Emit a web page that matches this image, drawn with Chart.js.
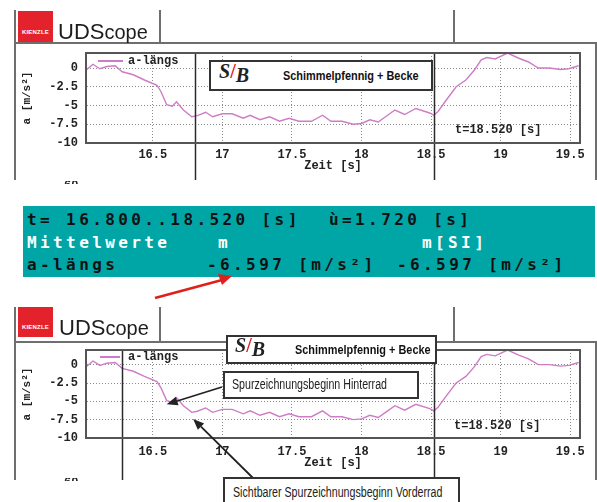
<!DOCTYPE html>
<html>
<head>
<meta charset="utf-8">
<script src="https://cdn.jsdelivr.net/npm/chart.js@4.4.1/dist/chart.umd.min.js"></script>
<style>
body { margin: 0; background: #fff; }
#page { position: relative; width: 597px; height: 502px; overflow: hidden; font-family: "Liberation Mono", "DejaVu Sans Mono", monospace; }
canvas { position: absolute; left: 0; }
.ln { position: absolute; background: #6e6e6e; }
.kz { position: absolute; width: 35px; height: 31px; background: #e4222b; color: #fff; font: bold 6px "Liberation Sans", sans-serif; text-align: center; box-sizing: border-box; padding-top: 18px; letter-spacing: 0.2px; }
.uds { position: absolute; font: 22px "Liberation Sans", sans-serif; color: #1e1e1e; line-height: 22px; white-space: pre; }
.uds small { font-size: 20px; }
.box { position: absolute; background: #fff; border: 2px solid #333; box-sizing: border-box; }
.sb { position: absolute; font: italic bold 20px "Liberation Serif", serif; color: #222; }
.sb i { color: #e02020; font-style: normal; }
.firm { position: absolute; font: bold 13px "Liberation Sans", sans-serif; color: #111; white-space: pre; transform: scaleX(0.84); transform-origin: 0 0; }
.note { position: absolute; font: 14px "Liberation Sans", sans-serif; color: #222; white-space: pre; transform: scaleX(0.76); transform-origin: 0 0; }
.mono { position: absolute; font: bold 12px "Liberation Mono", monospace; color: #222; white-space: pre; line-height: 14px; }
.leg { position: absolute; height: 1.5px; background: #cf7cc6; }
#panel { position: absolute; left: 23px; top: 206px; width: 572px; height: 71px; background: #00a6a6; }
.pt { position: absolute; font: bold 16px "DejaVu Sans Mono", monospace; letter-spacing: 3.4px; line-height: 16px; white-space: pre; color: #111; }
.pt.w { color: #fff; }
</style>
</head>
<body>
<div id="page">
  <canvas id="scopeTop" width="597" height="185" style="top:0"></canvas>
  <canvas id="scopeBottom" width="597" height="202" style="top:300px"></canvas>

  <!-- top window frame -->
  <div class="ln" style="left:14px;top:10px;width:2px;height:170px"></div>
  <div class="ln" style="left:159px;top:10px;width:2px;height:33px"></div>
  <div class="ln" style="left:453px;top:10px;width:2px;height:33px"></div>
  <div class="ln" style="left:15px;top:42px;width:582px;height:2px"></div>
  <div class="ln" style="left:595px;top:43px;width:2px;height:137px"></div>
  <div class="kz" style="left:18px;top:11px">KIENZLE</div>
  <div class="uds" style="left:58px;top:21px">UDS<small>cope</small></div>

  <!-- bottom window frame -->
  <div class="ln" style="left:14px;top:307px;width:2px;height:173px"></div>
  <div class="ln" style="left:159px;top:307px;width:2px;height:35px"></div>
  <div class="ln" style="left:453px;top:307px;width:2px;height:35px"></div>
  <div class="ln" style="left:15px;top:341px;width:582px;height:2px"></div>
  <div class="ln" style="left:595px;top:342px;width:2px;height:138px"></div>
  <div class="kz" style="left:18px;top:307px;height:30px;padding-top:17px">KIENZLE</div>
  <div class="uds" style="left:59px;top:317px">UDS<small>cope</small></div>

  <div style="position:absolute;left:64px;top:181px;height:3px;overflow:hidden"><div class="mono" style="position:static;margin-top:-2px">60</div></div>
  <div style="position:absolute;left:64px;top:478px;height:3px;overflow:hidden"><div class="mono" style="position:static;margin-top:-2px">60</div></div>

  <!-- legends and cursor readouts -->
  <div class="leg" style="left:98px;top:60px;width:25px"></div>
  <div class="mono" style="left:128px;top:54px">a-längs</div>
  <div class="mono" style="left:455px;top:123px">t=18.520 [s]</div>
  <div class="leg" style="left:100px;top:356px;width:20px"></div>
  <div class="mono" style="left:128px;top:350px">a-längs</div>
  <div class="mono" style="left:454px;top:419px">t=18.520 [s]</div>

  <!-- S/B boxes -->
  <div class="box" style="left:209px;top:60px;width:224px;height:31px"></div>
  <div class="sb" style="left:219px;top:60px">S<i>/</i><span style="position:relative;top:4px">B</span></div>
  <div class="firm" style="left:283px;top:68px">Schimmelpfennig + Becke</div>
  <div class="box" style="left:226px;top:335px;width:211px;height:29px"></div>
  <div class="sb" style="left:235px;top:334px">S<i>/</i><span style="position:relative;top:4px">B</span></div>
  <div class="firm" style="left:295px;top:342px">Schimmelpfennig + Becke</div>

  <!-- annotations -->
  <div class="box" style="left:223px;top:371px;width:196px;height:28px"></div>
  <div class="note" style="left:232px;top:376px">Spurzeichnungsbeginn Hinterrad</div>
  <div class="box" style="left:223px;top:477px;width:237px;height:40px"></div>
  <div class="note" style="left:233px;top:484px">Sichtbarer Spurzeichnungsbeginn Vorderrad</div>

  <!-- measurement panel -->
  <div id="panel"></div>
  <div class="pt" style="left:27px;top:212px">t= 16.800..18.520 [s]</div>
  <div class="pt" style="left:329px;top:212px">ù=1.720 [s]</div>
  <div class="pt w" style="left:27px;top:235px">Mittelwerte</div>
  <div class="pt w" style="left:218px;top:235px">m</div>
  <div class="pt w" style="left:422px;top:235px">m[SI]</div>
  <div class="pt" style="left:27px;top:257px">a-längs</div>
  <div class="pt" style="left:207px;top:257px">-6.597 [m/s²]</div>
  <div class="pt" style="left:397px;top:257px">-6.597 [m/s²]</div>

  <svg width="597" height="502" style="position:absolute;left:0;top:0;pointer-events:none">
    <line x1="155" y1="298" x2="222" y2="280" stroke="#e0201c" stroke-width="2.5"/>
    <polygon points="232,276 218,274 222,285" fill="#e0201c"/>
  </svg>
</div>

<script>
// a-längs trace
const timeS = [16.02, 16.07, 16.12, 16.17, 16.23, 16.28, 16.36, 16.44, 16.53, 16.56,
  16.60, 16.64, 16.67, 16.72, 16.78, 16.82, 16.88, 16.93, 17.00, 17.07,
  17.15, 17.20, 17.27, 17.34, 17.41, 17.48, 17.55, 17.64, 17.72, 17.78,
  17.86, 17.94, 18.00, 18.06, 18.12, 18.18, 18.24, 18.31, 18.39, 18.49,
  18.52, 18.55, 18.60, 18.68, 18.75, 18.81, 18.86, 18.90, 18.96, 19.05,
  19.13, 19.20, 19.27, 19.35, 19.43, 19.49, 19.56];
const accel = [-0.3, 0.5, -0.1, 0.2, 0.3, -0.5, -0.9, -1.6, -2.3, -3.2,
  -4.9, -5.1, -4.5, -5.6, -6.5, -6.35, -5.9, -6.5, -6.1, -6.1,
  -6.7, -6.3, -6.9, -6.5, -7.1, -6.7, -7.1, -7.1, -6.3, -7.1,
  -7.1, -7.5, -7.4, -6.9, -7.2, -6.4, -5.6, -6.2, -5.4, -6.0,
  -6.3, -5.8, -4.5, -2.5, -1.6, -0.3, 1.1, 1.4, 1.2, 2.0,
  1.3, 0.8, 0.0, 0.0, -0.2, -0.1, 0.3];
const xTicks = [16.5, 17, 17.5, 18, 18.5, 19, 19.5];
const yTicks = [0, -2.5, -5, -7.5, -10];
const cursorsTop = [16.8, 18.52];
const cursorsBottom = [16.28, 18.52];
// arrow targets on the trace (t, a)
const markHinterrad = {t: 16.6, v: -5.4};
const markVorderrad = {t: 16.79, v: -7.4};

function drawArrow(ctx, x0, y0, x1, y1) {
    let ang = Math.atan2(y1 - y0, x1 - x0)
    let hl = 11, hw = 4.5
    let bx = x1 - hl * Math.cos(ang), by = y1 - hl * Math.sin(ang)
    ctx.beginPath()
    ctx.moveTo(x0, y0)
    ctx.lineTo(bx, by)
    ctx.stroke()
    ctx.beginPath()
    ctx.moveTo(x1, y1)
    ctx.lineTo(bx + hw * Math.sin(ang), by - hw * Math.cos(ang))
    ctx.lineTo(bx - hw * Math.sin(ang), by + hw * Math.cos(ang))
    ctx.closePath()
    ctx.fill()
}

const scopeDeco = {
    id: 'scopeDeco',
    afterDatasetsDraw(chart, args, opts) {
        const {ctx, chartArea: a, scales: {x, y}} = chart
        ctx.save()
        ctx.strokeStyle = '#2a2a2a'
        ctx.lineWidth = 1.5
        opts.cursors.forEach(t => {
            let px = Math.round(x.getPixelForValue(t)) + 0.5
            ctx.beginPath()
            ctx.moveTo(px, a.top)
            ctx.lineTo(px, opts.cursorEnd)
            ctx.stroke()
        })
        ctx.strokeStyle = '#555'
        ctx.lineWidth = 2
        ctx.strokeRect(a.left, a.top, a.width, a.height)
        ctx.strokeStyle = '#222'
        ctx.fillStyle = '#222'
        ctx.lineWidth = 1.8
        ;(opts.arrows || []).forEach(ar => {
            drawArrow(ctx, ar.fromX, ar.fromY, x.getPixelForValue(ar.t), y.getPixelForValue(ar.v))
        })
        ctx.restore()
    }
}

Chart.defaults.font.family = '"Liberation Mono", "DejaVu Sans Mono", monospace'
Chart.defaults.color = '#222'

function scopeChart(id, cursors, arrows, pad) {
    const data = {
        datasets: [{
            label: 'a-längs',
            data: timeS.map((t, i) => ({x: t, y: accel[i]})),
            borderColor: '#cf7cc6',
            borderWidth: 1.4,
            pointRadius: 0,
            tension: 0
        }]
    }
    const config = {
        type: 'line',
        data: data,
        options: {
            responsive: false,
            animation: false,
            devicePixelRatio: 1,
            layout: {padding: {left: 0, top: pad.top, right: 17, bottom: pad.bottom}},
            plugins: {
                legend: {display: false},
                tooltip: {enabled: false},
                scopeDeco: {cursors: cursors, cursorEnd: 180, arrows: arrows}
            },
            scales: {
                x: {
                    type: 'linear', min: 16.02, max: 19.57,
                    afterFit: s => { s.height = 42 },
                    afterBuildTicks: s => { s.ticks = xTicks.map(v => ({value: v})) },
                    ticks: {padding: pad.xTick, maxRotation: 0, autoSkip: false, font: {size: 12, weight: 'bold'}, callback: v => String(v)},
                    grid: {color: '#8a8a8a', drawTicks: false},
                    border: {display: true, color: '#555', width: 2, dash: [1, 2]},
                    title: {display: true, text: 'Zeit [s]', font: {size: 12, weight: 'bold'}, padding: {top: 0, bottom: pad.xTitle}}
                },
                y: {
                    type: 'linear', min: -10, max: 2,
                    afterFit: s => { s.width = 86 },
                    afterBuildTicks: s => { s.ticks = yTicks.map(v => ({value: v})) },
                    ticks: {padding: 8, font: {size: 12, weight: 'bold'}, callback: v => String(v)},
                    grid: {color: '#8a8a8a', drawTicks: false},
                    border: {display: true, color: '#555', width: 2, dash: [1, 2]},
                    title: {display: true, text: 'a [m/s²]', font: {size: 11, weight: 'bold'}, padding: {top: 21, bottom: 0}}
                }
            }
        },
        plugins: [scopeDeco]
    }
    let ctx = document.getElementById(id).getContext('2d')
    return new Chart(ctx, config)
}

scopeChart('scopeTop', cursorsTop, [], {top: 53, bottom: 0, xTick: 5, xTitle: 12})
scopeChart('scopeBottom', cursorsBottom, [
    {fromX: 222, fromY: 87, t: markHinterrad.t, v: markHinterrad.v},
    {fromX: 253, fromY: 178, t: markVorderrad.t, v: markVorderrad.v}
], {top: 50, bottom: 22, xTick: 7, xTitle: 10})
</script>
</body>
</html>
